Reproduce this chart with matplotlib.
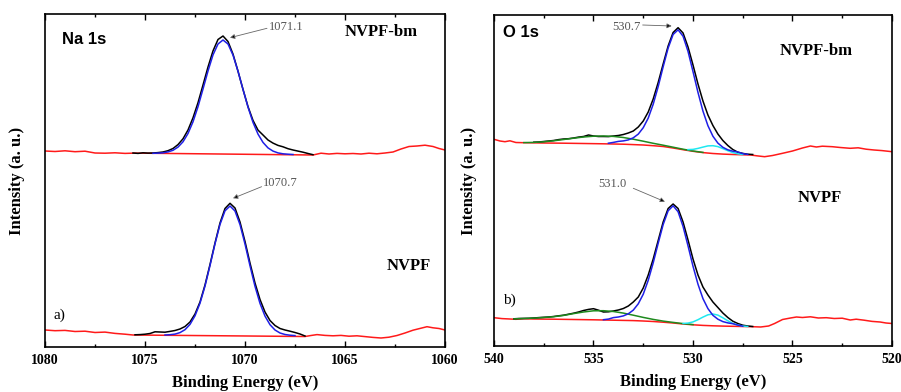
import numpy as np
import matplotlib
matplotlib.use('Agg')
import matplotlib.pyplot as plt
from matplotlib.ticker import MultipleLocator

plt.rcParams['font.family'] = ['Liberation Serif', 'DejaVu Serif']

# ---- Na 1s, NVPF-bm (upper trace) ----
na_bm_red_x = [1080.0, 1079.5, 1079.0, 1078.5, 1078.0, 1077.5, 1077.0, 1076.5, 1076.0, 1075.5,
               1066.6, 1066.2, 1065.8, 1065.4, 1065.0, 1064.6, 1064.2, 1063.8, 1063.4, 1063.0,
               1062.6, 1062.2, 1061.8, 1061.4, 1061.0, 1060.6, 1060.3, 1060.0]
na_bm_red_y = [196.0, 195.5, 196.2, 195.3, 195.8, 194.0, 193.8, 194.2, 193.6, 193.9,
               192.0, 193.8, 193.0, 193.6, 193.2, 193.5, 193.0, 193.8, 193.2, 194.0,
               195.0, 198.0, 200.5, 201.0, 201.8, 200.5, 198.5, 197.0]
na_bm_raw = [194.0, 193.6, 194.2, 193.9, 194.0, 194.4, 195.0, 196.3, 198.5, 202.4,
             208.2, 217.0, 229.2, 244.3, 262.0, 280.0, 296.1, 307.5, 311.0, 305.5,
             292.9, 275.8, 257.6, 240.4, 226.6, 216.9, 212.0, 207.0, 203.9, 201.6,
             200.2, 198.3, 197.0, 195.9, 194.8, 193.5, 192.3]
na_bm_fit = [193.7, 193.9, 194.2, 195.1, 196.7, 199.9, 205.2, 213.5, 225.2, 240.3,
             258.0, 276.0, 292.1, 303.0, 307.0, 303.0, 291.9, 275.8, 257.6, 239.9,
             224.6, 212.9, 204.6, 199.1, 195.9, 194.1, 193.2, 192.8, 192.5]
na_bm_raw_x = np.linspace(1075.6, 1066.6, len(na_bm_raw))
na_bm_fit_x = np.linspace(1074.6, 1067.6, len(na_bm_fit))

# ---- Na 1s, NVPF (lower trace) ----
na_red_x = [1080.0, 1079.5, 1079.0, 1078.5, 1078.0, 1077.5, 1077.0, 1076.5, 1076.0, 1075.6,
            1067.0, 1066.7, 1066.4, 1066.0, 1065.6, 1065.2, 1064.8, 1064.4, 1064.0, 1063.6,
            1063.2, 1062.8, 1062.4, 1062.0, 1061.6, 1061.2, 1060.9, 1060.6, 1060.3, 1060.0]
na_red_y = [17.0, 16.3, 16.6, 15.5, 15.8, 14.5, 14.9, 13.6, 12.8, 12.0,
            10.5, 11.5, 12.4, 11.6, 11.2, 11.6, 10.8, 11.2, 10.4, 9.6,
            9.0, 9.8, 11.5, 14.0, 16.8, 18.8, 20.3, 19.2, 18.5, 17.0]
na_raw = [12.2, 12.4, 12.8, 13.5, 15.2, 15.0, 14.8, 15.6, 16.5, 18.0,
          20.5, 25.0, 33.0, 45.0, 62.0, 82.5, 104.0, 124.0, 138.5, 143.7,
          139.0, 125.0, 105.5, 84.0, 64.0, 47.5, 35.0, 26.5, 21.5, 18.5,
          17.0, 15.8, 14.5, 13.0, 11.0]
na_fit = [12.0, 12.3, 12.9, 14.4, 17.3, 22.6, 31.2, 43.8, 60.9, 81.4,
          103.2, 122.6, 136.2, 141.0, 136.0, 122.4, 103.0, 81.2, 60.7, 43.6,
          30.9, 22.3, 17.0, 14.0, 12.5, 11.8, 11.4]
na_raw_x = np.linspace(1075.5, 1067.0, len(na_raw))
na_fit_x = np.linspace(1074.0, 1067.5, len(na_fit))

# ---- O 1s, NVPF-bm (upper trace) ----
o_bm_red_x = [540.0, 539.7, 539.45, 539.2, 538.9, 538.5, 537.5, 536.5, 535.5, 534.5,
              533.5, 532.5, 532.0, 531.5, 531.0, 530.5, 530.0, 529.5, 529.0, 528.5,
              528.0, 527.5, 527.1, 526.8, 526.4, 526.0, 525.5, 525.0, 524.5, 524.1,
              523.8, 523.5, 523.0, 522.6, 522.1, 521.7, 521.3, 520.9, 520.5, 520.0]
o_bm_red_y = [206.7, 205.0, 204.3, 205.2, 203.5, 203.3, 203.0, 202.8, 202.5, 202.2,
              201.8, 201.0, 200.3, 199.5, 198.0, 196.3, 194.7, 193.4, 192.5, 191.9,
              191.5, 191.2, 191.0, 190.2, 189.3, 190.5, 192.7, 195.0, 198.0, 200.0,
              199.0, 199.8, 199.3, 198.5, 197.7, 198.2, 196.8, 196.0, 195.4, 194.3]
o_bm_raw = [203.8, 204.0, 204.5, 205.0, 205.5, 206.4, 207.0, 207.3, 208.0, 208.9,
            209.5, 211.0, 210.0, 209.5, 209.5, 209.4, 210.0, 210.5, 211.5, 213.0,
            215.0, 219.0, 225.0, 234.0, 247.0, 263.5, 282.0, 300.0, 313.5, 318.3,
            313.0, 299.0, 281.0, 262.0, 245.0, 231.0, 220.5, 212.0, 205.5, 200.5,
            196.5, 193.8, 192.6, 191.8, 191.5]
o_bm_fit = [202.8, 203.6, 204.6, 205.1, 206.1, 208.2, 211.9, 218.3, 227.9, 241.8,
            259.4, 279.2, 297.9, 311.5, 316.2, 309.8, 294.6, 274.4, 253.6, 234.9,
            220.3, 209.8, 202.9, 198.7, 196.2, 194.8, 194.0, 192.4, 191.6]
o_bm_green = [203.4, 203.6, 204.2, 205.2, 206.5, 207.8, 209.0, 209.8, 210.0, 209.6,
              208.5, 206.8, 204.8, 202.7, 200.8, 198.8, 196.8, 195.0, 193.6]
o_bm_cyan = [196.4, 196.6, 197.6, 198.9, 200.1, 200.3, 199.4, 197.4, 195.3, 193.4,
             192.2, 191.5]
o_bm_raw_x = np.linspace(538.0, 527.0, len(o_bm_raw))
o_bm_fit_x = np.linspace(534.25, 527.25, len(o_bm_fit))
o_bm_green_x = np.linspace(538.5, 529.5, len(o_bm_green))
o_bm_cyan_x = np.linspace(530.25, 527.5, len(o_bm_cyan))

# ---- O 1s, NVPF (lower trace) ----
o_red_x = [540.0, 539.6, 539.2, 538.9, 538.5, 538.0, 537.0, 536.0, 535.0, 534.0,
           533.0, 532.5, 532.0, 531.5, 531.0, 530.5, 530.0, 529.5, 529.0, 528.5,
           528.0, 527.5, 527.0, 526.6, 526.2, 525.9, 525.5, 525.1, 524.8, 524.5,
           524.1, 523.7, 523.3, 522.9, 522.5, 522.1, 521.8, 521.4, 521.0, 520.6,
           520.3, 520.0]
o_red_y = [28.3, 27.4, 27.0, 26.7, 27.2, 27.0, 26.8, 26.5, 26.2, 25.8,
           25.4, 25.0, 24.5, 23.8, 23.0, 22.0, 21.2, 20.6, 20.2, 19.9,
           19.7, 19.5, 19.3, 19.0, 20.0, 22.5, 26.5, 28.0, 29.0, 28.5,
           29.2, 28.0, 28.3, 27.5, 27.8, 26.0, 26.8, 25.8, 24.6, 24.0,
           23.0, 22.5]
o_raw = [27.2, 27.5, 27.6, 27.7, 28.0, 28.4, 28.7, 29.0, 29.5, 30.2,
         30.8, 31.8, 32.8, 34.0, 35.5, 36.6, 37.3, 35.8, 34.0, 34.2,
         35.0, 36.0, 37.5, 40.0, 44.0, 49.0, 58.0, 71.0, 87.0, 105.5,
         124.0, 137.5, 142.0, 137.5, 124.0, 106.0, 87.0, 71.0, 59.0, 51.0,
         44.0, 38.5, 33.0, 28.5, 24.8, 22.5, 20.8, 20.0, 19.5]
o_fit = [26.3, 26.9, 28.4, 29.0, 30.1, 32.2, 35.9, 42.2, 51.8, 65.7,
         83.1, 102.7, 121.4, 135.2, 140.2, 134.3, 119.6, 100.1, 79.8, 61.8,
         47.4, 37.4, 30.7, 26.8, 24.4, 23.1, 22.3, 20.9, 19.8]
o_green = [27.1, 27.5, 27.9, 28.5, 29.3, 30.6, 32.4, 34.0, 35.2, 35.3,
           34.5, 32.9, 30.8, 28.6, 26.6, 24.9, 23.6, 22.4, 21.4]
o_cyan = [22.5, 22.9, 24.1, 26.3, 28.9, 31.2, 32.0, 30.9, 28.2, 25.2,
          22.6, 20.9, 20.0, 19.5]
o_raw_x = np.linspace(539.0, 527.0, len(o_raw))
o_fit_x = np.linspace(534.5, 527.5, len(o_fit))
o_green_x = np.linspace(539.0, 530.0, len(o_green))
o_cyan_x = np.linspace(530.5, 527.25, len(o_cyan))

RED = '#ff1a1a'
BLUE = '#1f1fe6'
GREEN = '#1e8a1e'
CYAN = '#1fe8f0'
LW = 1.1

fig = plt.figure(figsize=(9.01, 3.92), dpi=100)
ax1 = fig.add_axes([45 / 901, 1 - 347 / 392, 400 / 901, 333 / 392])
ax2 = fig.add_axes([494 / 901, 1 - 346 / 392, 398 / 901, 331 / 392])

# Na 1s
ax1.plot(na_bm_red_x, na_bm_red_y, color=RED, lw=LW)
ax1.plot(na_bm_raw_x, na_bm_raw, color='black', lw=LW)
ax1.plot(na_bm_fit_x, na_bm_fit, color=BLUE, lw=LW)
ax1.plot(na_red_x, na_red_y, color=RED, lw=LW)
ax1.plot(na_raw_x, na_raw, color='black', lw=LW)
ax1.plot(na_fit_x, na_fit, color=BLUE, lw=LW)
ax1.set_xlim(1080, 1060)
ax1.set_ylim(0, 333)

# O 1s
ax2.plot(o_bm_red_x, o_bm_red_y, color=RED, lw=LW)
ax2.plot(o_bm_raw_x, o_bm_raw, color='black', lw=LW)
ax2.plot(o_bm_green_x, o_bm_green, color=GREEN, lw=LW)
ax2.plot(o_bm_cyan_x, o_bm_cyan, color=CYAN, lw=LW)
ax2.plot(o_bm_fit_x, o_bm_fit, color=BLUE, lw=LW)
ax2.plot(o_red_x, o_red_y, color=RED, lw=LW)
ax2.plot(o_raw_x, o_raw, color='black', lw=LW)
ax2.plot(o_green_x, o_green, color=GREEN, lw=LW)
ax2.plot(o_cyan_x, o_cyan, color=CYAN, lw=LW)
ax2.plot(o_fit_x, o_fit, color=BLUE, lw=LW)
ax2.set_xlim(540, 520)
ax2.set_ylim(0, 331)

for ax in (ax1, ax2):
    ax.xaxis.set_major_locator(MultipleLocator(5))
    ax.xaxis.set_minor_locator(MultipleLocator(2.5))
    ax.tick_params(axis='x', which='both', direction='in', top=True, width=1.0)
    ax.tick_params(axis='x', which='major', length=4, pad=5)
    ax.tick_params(axis='x', which='minor', length=2.5)
    ax.tick_params(axis='y', left=False, labelleft=False)
    for lab in ax.get_xticklabels():
        lab.set_fontweight('bold')
        lab.set_fontsize(10)
    for sp in ax.spines.values():
        sp.set_linewidth(1.2)
    ax.set_xlabel('Binding Energy (eV)', fontsize=12, fontweight='bold')
    ax.set_ylabel('Intensity (a. u.)', fontsize=12, fontweight='bold')
    ax.xaxis.set_label_coords(0.5, -0.085)

ax1.yaxis.set_label_coords(-0.05, 0.5)
ax2.yaxis.set_label_coords(-0.043, 0.5)

arrow = dict(arrowstyle='-|>', lw=0.6, ec='#666666', fc='black', mutation_scale=7,
             shrinkA=0, shrinkB=0)
note = dict(fontsize=9, color='#555555', va='center')
big = dict(fontsize=12, fontweight='bold', va='center')

# Na 1s labels
ax1.text(0.0425, 0.922, 'Na 1s', transform=ax1.transAxes, family='Liberation Sans', **big)
ax1.text(1065.0, 314.7, 'NVPF-bm', **big)
ax1.text(1062.9, 81, 'NVPF', **big)
ax1.text(1079.6, 32, 'a)', fontsize=11, va='center')
ax1.text(1068.8, 319.7, '1071.1', **note)
ax1.annotate('', xy=(1070.75, 309.3), xytext=(1068.9, 318.7), arrowprops=arrow)
ax1.text(1069.1, 164.3, '1070.7', **note)
ax1.annotate('', xy=(1070.6, 148.7), xytext=(1069.17, 160.3), arrowprops=arrow)

# O 1s labels
ax2.text(0.0226, 0.9465, 'O 1s', transform=ax2.transAxes, family='Liberation Sans', **big)
ax2.text(525.63, 295.3, 'NVPF-bm', **big)
ax2.text(524.72, 147.7, 'NVPF', **big)
ax2.text(539.55, 46, 'b)', fontsize=11, va='center')
ax2.text(534.07, 319.3, '530.7', **note)
ax2.annotate('', xy=(531.07, 320), xytext=(532.53, 321), arrowprops=arrow)
ax2.text(534.77, 161.7, '531.0', **note)
ax2.annotate('', xy=(531.41, 144.3), xytext=(533.0, 157.7), arrowprops=arrow)

fig.savefig('out.png', dpi=100)
